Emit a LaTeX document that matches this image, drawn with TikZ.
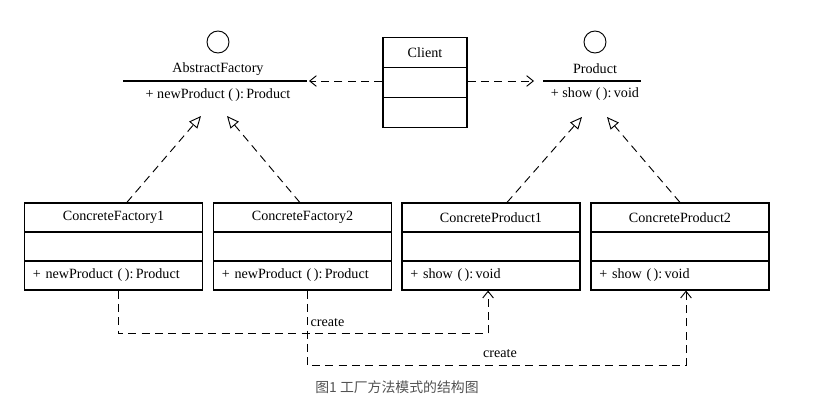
\documentclass[tikz,border=0pt]{standalone}
\usepackage{fontspec}
\setmainfont{Liberation Serif}
\newfontfamily\cjk{Noto Sans CJK SC}
\usetikzlibrary{arrows.meta,positioning}
\usepgflibrary{shapes}
\colorlet{capgray}{black!68}

\begin{document}
\begin{tikzpicture}[x=0.75pt,y=-0.75pt,-,auto,font=\fontsize{10.6}{12}\selectfont]
\tikzstyle{cls}=[rectangle,draw=black,line width=0.85pt,minimum width=133.5pt,minimum height=21.75pt,inner sep=0pt]
\tikzstyle{clsm}=[cls,text width=121pt,align=left]
\tikzstyle{client}=[rectangle,draw=black,line width=0.85pt,minimum width=63pt,minimum height=22.5pt,inner sep=0pt]
\tikzstyle{iface}=[circle,draw=black,line width=0.7pt,minimum size=16.5pt,inner sep=0pt]
\tikzstyle{dep}=[dash pattern=on 6pt off 4pt,line width=0.7pt]
\tikzstyle{real}=[dep,-{Triangle[open,length=9pt,width=8pt,line width=0.7pt]}]
\tikzstyle{use}=[dep,-{Straight Barb[length=5pt,width=8pt,line width=0.7pt]}]
\useasboundingbox (0,0) rectangle (816,408);
% interfaces
\node [iface] (afc) at (218,42) {};
\node (af) at (218,69) {AbstractFactory};
\node (afm) at (218,95) {+ newProduct (\,):\,Product};
\coordinate (afl) at (123,81);
\coordinate (afr) at (307,81);
\coordinate (aft) at (309,81);
\node [iface] (prc) at (595,42) {};
\node (pr) at (595,69) {Product};
\node (prm) at (595,94) {+ show (\,):\,void};
\coordinate (prl) at (543,81);
\coordinate (prr) at (641,81);
\coordinate (prt) at (534,81);
\draw [line width=0.8pt] (afl) -- (afr);
\draw [line width=0.8pt] (prl) -- (prr);
% client
\node [client] (cl) at (425,52.5) {Client};
\node [client] (cla) at (425,82.5) {};
\node [client] (clm) at (425,112.5) {};
% concrete classes
\node [cls] (cf1) at (113.5,217.5) {ConcreteFactory1};
\node [cls] (cf1a) at (113.5,246.5) {};
\node [clsm] (cf1m) at (113.5,275.5) {+ newProduct (\,):\,Product};
\node [cls] (cf2) at (302.5,217.5) {ConcreteFactory2};
\node [cls] (cf2a) at (302.5,246.5) {};
\node [clsm] (cf2m) at (302.5,275.5) {+ newProduct (\,):\,Product};
\node [cls] (cp1) at (491,217.5) {ConcreteProduct1};
\node [cls] (cp1a) at (491,246.5) {};
\node [clsm] (cp1m) at (491,275.5) {+ show (\,):\,void};
\node [cls] (cp2) at (680,217.5) {ConcreteProduct2};
\node [cls] (cp2a) at (680,246.5) {};
\node [clsm] (cp2m) at (680,275.5) {+ show (\,):\,void};
% realization
\coordinate (af1) at (201,116);
\coordinate (af2) at (227,116);
\coordinate (pr1) at (582,117);
\coordinate (pr2) at (607,117);
\draw [real] ([xshift=10pt]cf1.north) -- (af1);
\draw [real] ([xshift=-2pt]cf2.north) -- (af2);
\draw [real] ([xshift=12pt]cp1.north) -- (pr1);
\draw [real] (cp2.north) -- (pr2);
% dependencies
\draw [use] (cla.west |- afr) -- (aft);
\draw [use] (cla.east |- prl) -- (prt);
\draw [use] ([xshift=3.4pt]cf1m.south) -- ++(0,43) -| ([xshift=-2.2pt]cp1m.south);
\draw [use] ([xshift=3.4pt]cf2m.south) -- ++(0,75) -| ([xshift=4.5pt]cp2m.south);
\node [anchor=west,inner sep=1pt] (c1) at (309,323) {create};
\node (c2) at (500,354) {create};
% caption
\node [text=capgray,font=\cjk\fontsize{10.4}{12}\selectfont] (cap) at (397,387) {图1 工厂方法模式的结构图};
\end{tikzpicture}
\end{document}
